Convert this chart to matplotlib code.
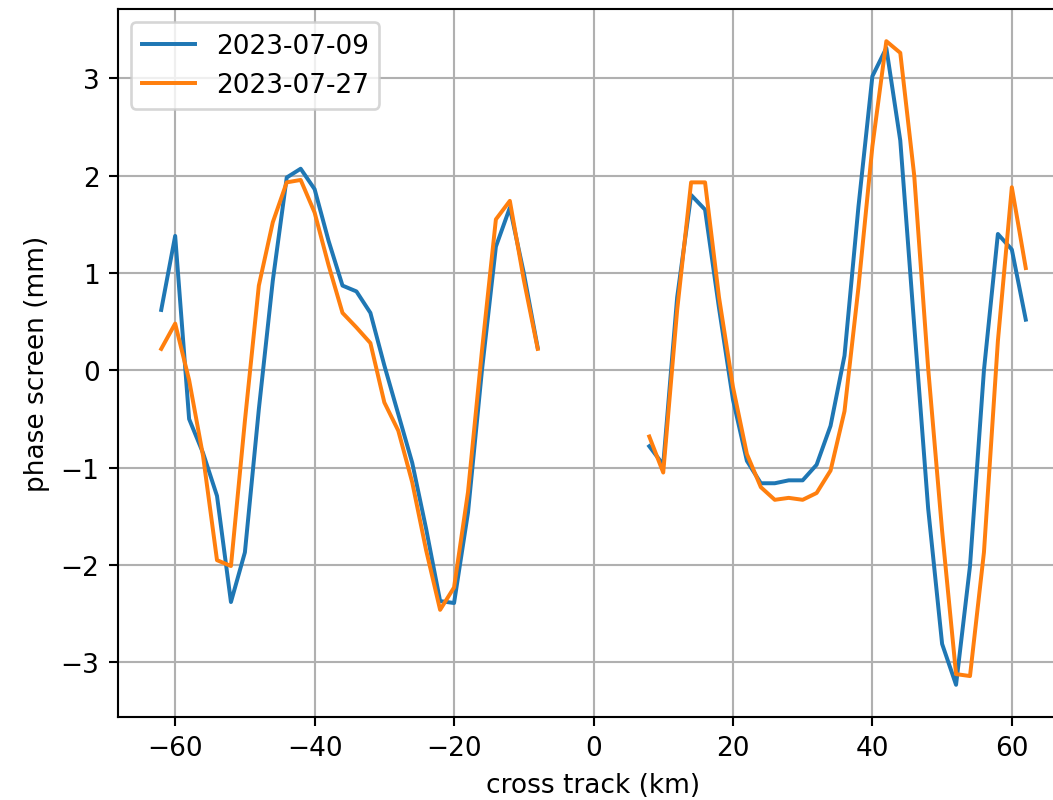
import numpy as np
import matplotlib
matplotlib.use("Agg")
import matplotlib.pyplot as plt

# cross track positions (km) on either side of the nadir gap
x_left = [-62, -60, -58, -56, -54, -52, -50, -48, -46, -44, -42, -40, -38, -36,
          -34, -32, -30, -28, -26, -24, -22, -20, -18, -16, -14, -12, -10, -8]
x_right = [8, 10, 12, 14, 16, 18, 20, 22, 24, 26, 28, 30, 32, 34,
           36, 38, 40, 42, 44, 46, 48, 50, 52, 54, 56, 58, 60, 62]

# phase screen (mm), 2023-07-09
p0709_left = [0.62, 1.38, -0.50, -0.85, -1.29, -2.38, -1.87, -0.40, 0.92, 1.98,
              2.07, 1.86, 1.33, 0.87, 0.81, 0.59, 0.05, -0.45, -0.95, -1.63,
              -2.37, -2.39, -1.46, 0.00, 1.27, 1.67, 1.00, 0.23]
p0709_right = [-0.78, -0.97, 0.75, 1.80, 1.65, 0.64, -0.30, -0.93, -1.16, -1.16,
               -1.13, -1.13, -0.97, -0.57, 0.15, 1.68, 3.02, 3.31, 2.36, 0.46,
               -1.42, -2.81, -3.23, -2.01, 0.00, 1.40, 1.24, 0.52]

# phase screen (mm), 2023-07-27
p0727_left = [0.22, 0.48, -0.10, -0.88, -1.95, -2.01, -0.52, 0.87, 1.52, 1.93,
              1.955, 1.62, 1.08, 0.59, 0.44, 0.28, -0.33, -0.62, -1.15, -1.85,
              -2.46, -2.23, -1.25, 0.20, 1.55, 1.74, 0.93, 0.22]
p0727_right = [-0.68, -1.05, 0.62, 1.93, 1.93, 0.75, -0.17, -0.86, -1.20, -1.33,
               -1.31, -1.33, -1.26, -1.03, -0.42, 0.85, 2.30, 3.38, 3.26, 2.00,
               0.02, -1.65, -3.12, -3.14, -1.87, 0.30, 1.88, 1.05]

# join the two swaths with a NaN so the line breaks over the gap
x = np.array(x_left + [np.nan] + x_right, dtype=float)
p0709 = np.array(p0709_left + [np.nan] + p0709_right, dtype=float)
p0727 = np.array(p0727_left + [np.nan] + p0727_right, dtype=float)

dpi = 190
fig = plt.figure(figsize=(1053 / dpi, 801 / dpi), dpi=dpi)
ax = fig.add_axes([118 / 1053, 83 / 801, 951 / 1053, 708 / 801])

ax.plot(x, p0709, label="2023-07-09")
ax.plot(x, p0727, label="2023-07-27")

ax.set_xlabel("cross track (km)")
ax.set_ylabel("phase screen (mm)")
ax.grid(True)
ax.legend(loc="upper left")

plt.savefig("out.png", dpi=dpi)
